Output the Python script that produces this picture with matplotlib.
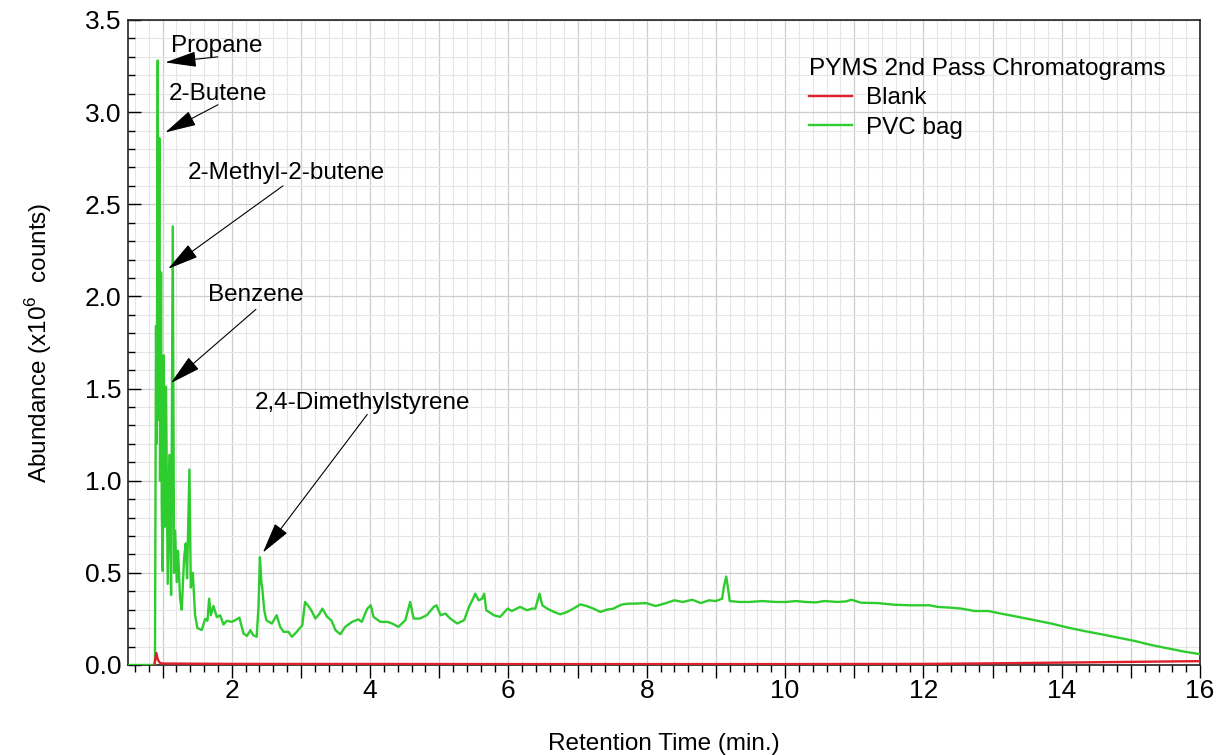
import matplotlib
matplotlib.use("Agg")
import matplotlib.pyplot as plt
from matplotlib.ticker import MultipleLocator, FuncFormatter

plt.rcParams['font.family'] = ['Liberation Sans', 'DejaVu Sans']
plt.rcParams['mathtext.fontset'] = 'custom'
plt.rcParams['mathtext.rm'] = 'Liberation Sans'

# PVC bag chromatogram (retention time in min, abundance in 1e6 counts)
pvc_time = [
    0.50, 0.89, 0.905, 0.915, 0.930, 0.939, 0.953, 0.963, 0.978, 0.988,
    1.002, 1.017, 1.031, 1.050, 1.074, 1.098, 1.123, 1.147, 1.166, 1.180,
    1.205, 1.224, 1.253, 1.277, 1.311, 1.335, 1.354, 1.388, 1.408, 1.437,
    1.470, 1.504, 1.567, 1.615, 1.648, 1.673, 1.697, 1.735, 1.784, 1.832,
    1.880, 1.929, 1.999, 2.05, 2.11, 2.17, 2.22, 2.27, 2.31, 2.36,
    2.387, 2.407, 2.43, 2.44, 2.47, 2.50, 2.58, 2.65, 2.70, 2.75,
    2.82, 2.87, 2.94, 3.02, 3.06, 3.10, 3.15, 3.21, 3.27, 3.31,
    3.38, 3.44, 3.50, 3.57, 3.64, 3.74, 3.83, 3.88, 3.96, 4.01,
    4.05, 4.15, 4.25, 4.32, 4.41, 4.51, 4.58, 4.63, 4.72, 4.82,
    4.92, 4.96, 5.02, 5.09, 5.16, 5.26, 5.36, 5.43, 5.50, 5.52,
    5.57, 5.62, 5.65, 5.68, 5.79, 5.88, 5.99, 6.05, 6.17, 6.27,
    6.34, 6.39, 6.45, 6.49, 6.56, 6.66, 6.75, 6.85, 6.94, 7.04,
    7.13, 7.23, 7.33, 7.42, 7.52, 7.59, 7.65, 7.74, 7.84, 7.99,
    8.13, 8.28, 8.40, 8.52, 8.66, 8.78, 8.90, 9.00, 9.09, 9.12,
    9.15, 9.18, 9.20, 9.34, 9.48, 9.67, 9.87, 10.01, 10.16, 10.30,
    10.45, 10.57, 10.76, 10.88, 10.96, 11.10, 11.34, 11.58, 11.82, 12.09,
    12.21, 12.40, 12.55, 12.74, 12.94, 13.12, 13.37, 13.61, 13.85, 14.09,
    14.33, 14.57, 14.81, 15.05, 15.30, 15.54, 15.78, 16.00,
]
pvc_abund = [
    0.0, 0.0, 1.84, 1.20, 3.28, 1.33, 2.86, 1.00, 2.13, 0.86,
    0.51, 1.68, 0.75, 1.51, 0.44, 1.14, 0.38, 2.38, 0.50, 0.73,
    0.45, 0.62, 0.36, 0.30, 0.58, 0.66, 0.47, 1.06, 0.42, 0.50,
    0.27, 0.20, 0.19, 0.25, 0.24, 0.36, 0.27, 0.32, 0.26, 0.27,
    0.22, 0.24, 0.234, 0.243, 0.257, 0.171, 0.157, 0.189, 0.162, 0.153,
    0.315, 0.585, 0.441, 0.423, 0.297, 0.243, 0.225, 0.270, 0.207, 0.180,
    0.180, 0.153, 0.180, 0.216, 0.342, 0.324, 0.297, 0.252, 0.279, 0.306,
    0.261, 0.243, 0.189, 0.167, 0.207, 0.234, 0.248, 0.234, 0.306, 0.324,
    0.261, 0.234, 0.234, 0.225, 0.207, 0.243, 0.342, 0.252, 0.252, 0.270,
    0.315, 0.324, 0.270, 0.279, 0.252, 0.225, 0.243, 0.315, 0.369, 0.387,
    0.351, 0.360, 0.387, 0.297, 0.270, 0.261, 0.306, 0.293, 0.315, 0.297,
    0.306, 0.306, 0.387, 0.324, 0.306, 0.288, 0.275, 0.288, 0.306, 0.329,
    0.320, 0.306, 0.288, 0.300, 0.306, 0.320, 0.329, 0.333, 0.333, 0.336,
    0.320, 0.336, 0.351, 0.342, 0.354, 0.336, 0.351, 0.347, 0.360, 0.432,
    0.480, 0.405, 0.347, 0.342, 0.342, 0.347, 0.342, 0.342, 0.347, 0.342,
    0.340, 0.347, 0.342, 0.345, 0.354, 0.338, 0.336, 0.327, 0.324, 0.324,
    0.315, 0.311, 0.306, 0.293, 0.293, 0.279, 0.261, 0.243, 0.225, 0.203,
    0.184, 0.167, 0.149, 0.131, 0.108, 0.090, 0.072, 0.059,
]

# Blank run
blank_time = [0.88, 0.91, 0.93, 0.96, 1.0, 2.0, 6.0, 10.0, 12.0, 13.0, 14.0, 15.0, 16.0]
blank_abund = [0.0, 0.065, 0.03, 0.012, 0.008, 0.006, 0.005, 0.005, 0.006, 0.009, 0.013, 0.017, 0.021]

# Peak labels: text position, arrow tail, arrow tip
peak_names = ["Propane", "2-Butene", "2-Methyl-2-butene", "Benzene", "2,4-Dimethylstyrene"]
label_pos = [(1.79, 3.36), (1.80, 3.10), (2.79, 2.67), (2.35, 2.01), (3.89, 1.42)]
arrow_tail = [(1.80, 3.30), (1.80, 3.04), (2.74, 2.60), (2.35, 1.93), (3.96, 1.36)]
arrow_tip = [(1.04, 3.27), (1.04, 2.89), (1.08, 2.15), (1.12, 1.53), (2.45, 0.61)]

FS = 17.5

fig = plt.figure(figsize=(12.17, 7.55), dpi=100)
ax = fig.add_axes([128 / 1217, 1 - 665 / 755, 1072 / 1217, 645 / 755])

ax.plot(pvc_time, pvc_abund, color='#2ecc2e', lw=1.7, label='PVC bag', zorder=3)
ax.plot(blank_time, blank_abund, color='#e0202c', lw=1.7, label='Blank', zorder=4)

ax.set_xlim(0.5, 16)
ax.set_ylim(0, 3.5)
ax.xaxis.set_major_locator(MultipleLocator(1))
ax.xaxis.set_minor_locator(MultipleLocator(0.2))
ax.xaxis.set_major_formatter(FuncFormatter(lambda v, p: f"{int(v)}" if int(round(v)) % 2 == 0 else ""))
ax.yaxis.set_major_locator(MultipleLocator(0.5))
ax.yaxis.set_minor_locator(MultipleLocator(0.1))
ax.yaxis.set_major_formatter(FuncFormatter(lambda v, p: f"{v:.1f}"))

ax.grid(which='major', color='#cdcdcd', lw=0.9, zorder=0)
ax.grid(which='minor', color='#e6e6e6', lw=0.8, zorder=0)
ax.set_axisbelow(True)

ax.tick_params(axis='x', which='major', direction='out', length=9, width=1, labelsize=19, pad=1)
ax.tick_params(axis='x', which='minor', direction='out', length=5, width=1)
ax.tick_params(axis='y', which='major', direction='in', length=9, width=1, labelsize=19, pad=5)
ax.tick_params(axis='y', which='minor', direction='in', length=5, width=1)
for s in ax.spines.values():
    s.set_color('#222222')
    s.set_linewidth(1.2)

ax.set_xlabel('Retention Time (min.)', fontsize=FS, labelpad=22)
ax.set_ylabel('Abundance (x10$^{6}$  counts)', fontsize=FS, labelpad=22)

for name, pos, tail, tip in zip(peak_names, label_pos, arrow_tail, arrow_tip):
    ax.text(pos[0], pos[1], name, fontsize=FS, ha='center', va='center', zorder=6)
    ax.annotate('', xy=tip, xytext=tail,
                arrowprops=dict(arrowstyle='-|>,head_length=1.4,head_width=0.35',
                                color='black', lw=0.8, mutation_scale=14,
                                shrinkA=0, shrinkB=0), zorder=6)

handles, labels = ax.get_legend_handles_labels()
leg = ax.legend(handles[::-1], labels[::-1], title='PYMS 2nd Pass Chromatograms',
                loc='upper left', bbox_to_anchor=(809 / 1217, 1 - 58 / 755),
                bbox_transform=fig.transFigure, frameon=False, fontsize=FS,
                title_fontsize=FS, alignment='left', borderpad=0, borderaxespad=0,
                labelspacing=0.3, handlelength=1.75, handletextpad=0.6)

fig.savefig('out.png', dpi=100)
